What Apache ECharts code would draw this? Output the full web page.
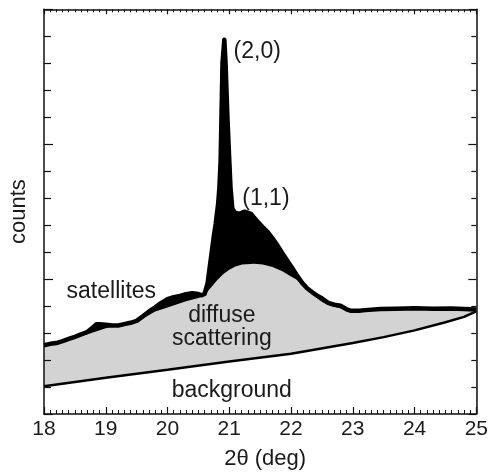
<!DOCTYPE html>
<html>
<head>
    <meta charset="utf-8">
    <script src="https://cdn.jsdelivr.net/npm/echarts@6.0.0/dist/echarts.min.js"></script>
    <style>
        *{
            margin:0;
            padding:0;
        }
        body{ background:#fff; }
    </style>
</head>
<body>
    <div id="main" style="width:491px;height:475px;"></div>
    <script type="text/javascript">

    // measured counts (top curve)
    var countsX = [18.00,18.10,18.20,18.30,18.40,18.50,18.60,18.70,18.80,18.85,18.90,19.00,19.10,19.20,19.30,19.40,19.50,19.60,19.70,19.80,19.90,20.00,20.10,20.20,20.30,20.40,20.50,20.55,20.60,20.65,20.70,20.75,20.78,20.82,20.84,20.86,20.89,20.92,20.94,20.97,21.00,21.02,21.05,21.10,21.16,21.25,21.35,21.45,21.54,21.62,21.70,21.78,21.86,21.94,22.02,22.10,22.18,22.26,22.35,22.43,22.51,22.60,22.70,22.80,22.90,22.96,23.10,23.20,23.45,23.70,24.00,24.30,24.60,24.80,25.00];
    var countsY = [2.55,2.60,2.63,2.70,2.78,2.86,2.95,3.04,3.22,3.33,3.33,3.31,3.28,3.28,3.33,3.38,3.45,3.62,3.80,3.95,4.12,4.26,4.33,4.38,4.44,4.48,4.45,4.40,4.45,4.86,5.73,6.60,7.05,7.80,8.40,9.40,13.0,13.87,13.0,11.0,9.40,8.40,7.60,7.45,7.42,7.50,7.42,7.15,6.93,6.75,6.51,6.25,5.96,5.68,5.41,5.12,4.86,4.66,4.50,4.38,4.27,4.12,4.05,4.01,3.88,3.83,3.83,3.85,3.89,3.90,3.92,3.90,3.91,3.89,3.87];

    // diffuse scattering (top of grey region)
    var diffuseX = [18.00,18.50,19.00,19.50,19.80,20.00,20.30,20.50,20.60,20.68,20.80,20.90,21.00,21.10,21.21,21.40,21.54,21.70,21.86,22.00,22.08,22.20,22.29,22.40,22.51,22.64,22.80,22.96,23.20,23.50,24.00,24.50,25.00];
    var diffuseY = [2.50,2.80,3.18,3.40,3.80,3.95,4.18,4.30,4.38,4.62,4.95,5.18,5.35,5.47,5.54,5.57,5.54,5.45,5.29,5.10,4.99,4.75,4.56,4.33,4.14,4.01,3.92,3.80,3.82,3.85,3.88,3.87,3.84];

    // background
    var bgX = [18,19,20,21,22,23,23.5,24,24.5,24.8,25];
    var bgY = [1.03,1.34,1.64,1.95,2.23,2.63,2.85,3.10,3.40,3.60,3.80];

    // annotations
    var annText = ['(2,0)','(1,1)','satellites','diffuse','scattering','background'];
    var annX = [21.07,21.21,19.09,20.88,20.88,21.04];
    var annY = [13.43,7.99,4.53,3.65,2.81,0.88];
    var annAlign = ['left','left','center','center','center','center'];

    function pairs(xs, ys) {
        var out = [];
        for (var i = 0; i < xs.length; i++) out.push([xs[i], ys[i]]);
        return out;
    }

    var font = 'Liberation Sans, Arial, sans-serif';
    var ink = '#1a1a1a';

    var myChart = echarts.init(document.getElementById('main'));

    var tickCommon = {
        axisLine: { show: true, onZero: false, lineStyle: { color: '#111', width: 1.5 } },
        splitLine: { show: false },
        minorSplitLine: { show: false }
    };

    myChart.setOption({
        animation: false,
        backgroundColor: '#fff',
        grid: { left: 42.7, right: 14.3, top: 9.3, bottom: 55, containLabel: false },
        xAxis: [
            Object.assign({
                type: 'value', min: 18, max: 25, interval: 1, position: 'bottom', z: 10,
                axisTick: { show: true, inside: true, length: 7, lineStyle: { color: '#111', width: 1.2 } },
                minorTick: { show: true, splitNumber: 10, length: 4, lineStyle: { color: '#111', width: 1 } },
                axisLabel: { show: true, margin: 5, fontSize: 21, color: ink, fontFamily: font },
                name: '2θ (deg)', nameLocation: 'middle', nameGap: 34,
                nameTextStyle: { fontSize: 22, color: ink, fontFamily: font, padding: [0, 0, 0, 10] }
            }, tickCommon),
            Object.assign({
                type: 'value', min: 18, max: 25, interval: 1, position: 'top', z: 10,
                axisTick: { show: true, inside: true, length: 5, lineStyle: { color: '#111', width: 1.2 } },
                minorTick: { show: true, splitNumber: 10, length: 3, lineStyle: { color: '#111', width: 1 } },
                axisLabel: { show: false }
            }, tickCommon)
        ],
        yAxis: [
            Object.assign({
                type: 'value', min: 0, max: 15, interval: 5, position: 'left', z: 10,
                axisTick: { show: true, inside: true, length: 9, lineStyle: { color: '#111', width: 1.2 } },
                minorTick: { show: true, splitNumber: 5, length: 7, lineStyle: { color: '#111', width: 1.2 } },
                axisLabel: { show: false },
                name: 'counts', nameLocation: 'middle', nameGap: 14, nameRotate: 90,
                nameTextStyle: { fontSize: 22, color: ink, fontFamily: font }
            }, tickCommon),
            Object.assign({
                type: 'value', min: 0, max: 15, interval: 5, position: 'right', z: 10,
                axisTick: { show: true, inside: true, length: 8, lineStyle: { color: '#111', width: 1.2 } },
                minorTick: { show: true, splitNumber: 5, length: 5, lineStyle: { color: '#111', width: 1.2 } },
                axisLabel: { show: false }
            }, tickCommon)
        ],
        series: [
            {
                type: 'line', data: pairs(countsX, countsY), showSymbol: false, silent: true, z: 1,
                lineStyle: { width: 0 }, areaStyle: { color: '#000', opacity: 1 }
            },
            {
                type: 'line', data: pairs(diffuseX, diffuseY), showSymbol: false, silent: true, z: 2,
                lineStyle: { width: 0 }, areaStyle: { color: '#d3d3d3', opacity: 1 }
            },
            {
                type: 'line', data: pairs(bgX, bgY), showSymbol: false, silent: true, z: 3,
                lineStyle: { width: 0 }, areaStyle: { color: '#fff', opacity: 1 }
            },
            {
                type: 'line', data: pairs(countsX, countsY), showSymbol: false, silent: true, z: 4,
                lineStyle: { width: 4.5, color: '#000', join: 'round' }
            },
            {
                type: 'line', data: pairs(bgX, bgY), showSymbol: false, silent: true, z: 4,
                lineStyle: { width: 2.5, color: '#000' }
            }
        ]
    });

    myChart.setOption({
        graphic: annText.map(function (t, i) {
            var p = myChart.convertToPixel({ xAxisIndex: 0, yAxisIndex: 0 }, [annX[i], annY[i]]);
            return {
                type: 'text', x: p[0], y: p[1], z: 20,
                style: {
                    text: t, fill: ink, font: '23px ' + font,
                    textAlign: annAlign[i], textVerticalAlign: 'middle'
                }
            };
        })
    });
</script>
</body>
</html>
